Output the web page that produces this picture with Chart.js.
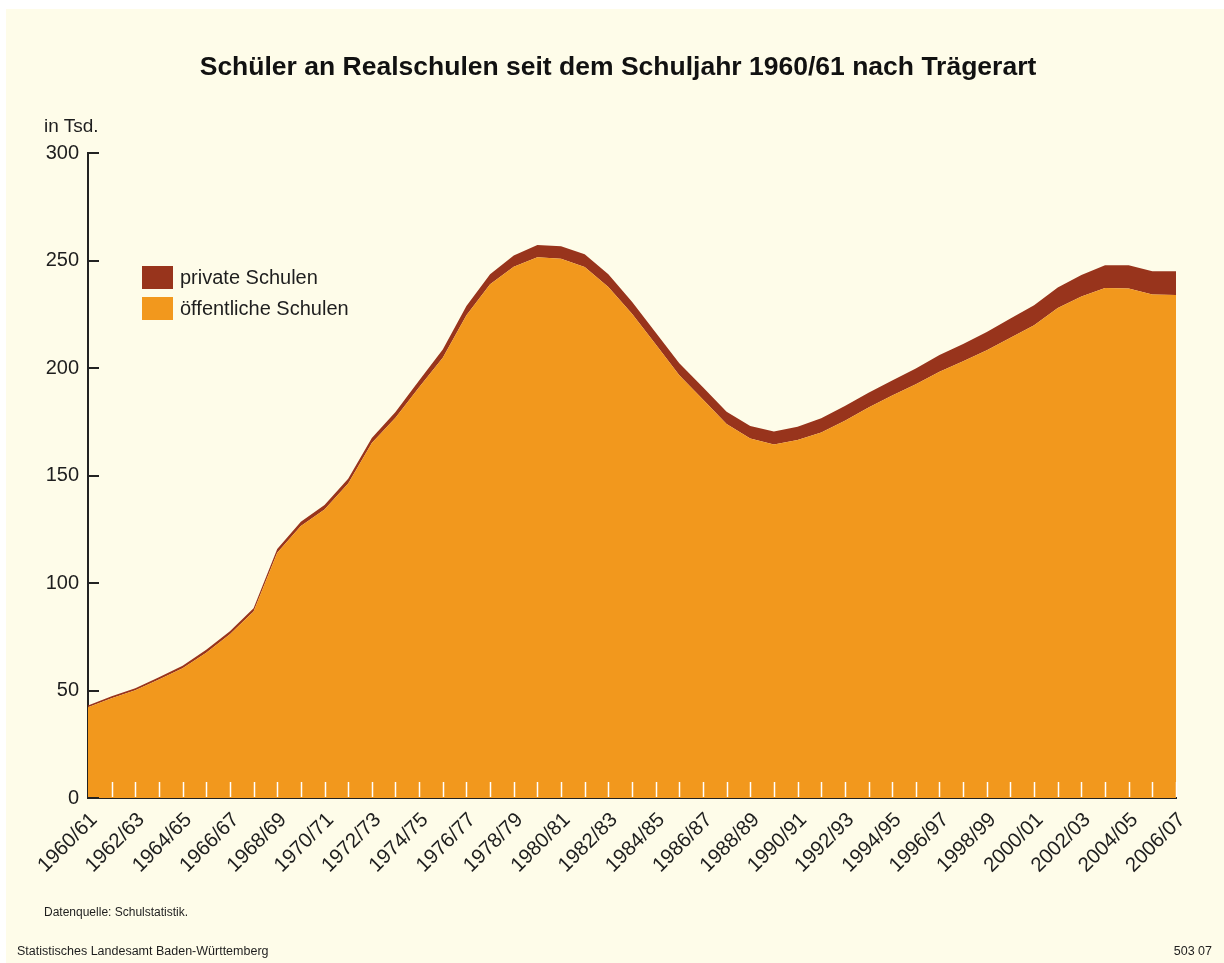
<!DOCTYPE html>
<html>
<head>
<meta charset="utf-8">
<script src="https://cdn.jsdelivr.net/npm/chart.js@4"></script>
<style>
  html, body { margin: 0; padding: 0; background: #ffffff; }
  #wrap { position: relative; width: 1224px; height: 963px; overflow: hidden; }
  #panel { position: absolute; left: 6px; top: 9px; right: 0; bottom: 0; background: #fefce9; }
  #chart { position: absolute; left: 0; top: 0; }
  .txt { position: absolute; font-family: "Liberation Sans", Arial, sans-serif; color: #1e1e1e; white-space: nowrap; }
  #title { left: 0; width: 1236px; top: 51px; text-align: center; font-size: 26.5px; font-weight: bold; color: #111; }
  #unit { left: 44px; top: 115px; font-size: 19px; }
  #legend { left: 142px; top: 265px; }
  .item { position: relative; height: 31px; font-size: 20px; line-height: 24px; }
  .box { position: absolute; left: 0; top: 1px; width: 31px; height: 23px; }
  .item span { position: absolute; left: 38px; top: 0; }
  #source { left: 44px; top: 905px; font-size: 12px; }
  #office { left: 17px; top: 944px; font-size: 12.5px; }
  #code { right: 12px; top: 944px; font-size: 12.5px; }
</style>
</head>
<body>
<div id="wrap">
  <div id="panel"></div>
  <canvas id="chart" width="1224" height="963"></canvas>
  <div class="txt" id="title">Schüler an Realschulen seit dem Schuljahr 1960/61 nach Trägerart</div>
  <div class="txt" id="unit">in Tsd.</div>
  <div class="txt" id="legend"></div>
  <div class="txt" id="source">Datenquelle: Schulstatistik.</div>
  <div class="txt" id="office">Statistisches Landesamt Baden-Württemberg</div>
  <div class="txt" id="code">503 07</div>
</div>
<script>
// Schuljahre 1960/61 bis 2006/07
var years = [];
for (var y = 1960; y <= 2006; y++) {
    years.push(y + '/' + String((y + 1) % 100).padStart(2, '0'));
}

// Schüler in Tausend
var publicSchools = [
    42.2, 46.4, 50.1, 55.1, 60.3, 67.6, 76.2, 86.8, 114.1, 126.5,
    134.2, 146.3, 165.1, 176.9, 191.0, 204.8, 224.5, 238.9, 247.1, 251.5,
    250.8, 247.0, 237.7, 225.2, 211.0, 196.6, 185.3, 174.0, 167.2, 164.4,
    166.5, 170.0, 175.5, 181.6, 187.2, 192.5, 198.2, 203.1, 208.3, 214.1,
    219.9, 227.9, 233.2, 237.2, 237.0, 234.2, 233.9
];
var privateSchools = [
    0.8, 0.9, 1.0, 1.1, 1.2, 1.3, 1.4, 1.5, 1.7, 2.0,
    2.1, 2.2, 2.4, 2.6, 3.2, 3.8, 4.3, 4.7, 5.2, 5.7,
    5.8, 5.9, 5.9, 5.6, 5.5, 5.6, 5.7, 5.6, 5.8, 6.1,
    6.2, 6.6, 6.8, 6.9, 7.0, 7.3, 7.8, 8.1, 8.5, 8.9,
    9.3, 9.5, 10.0, 10.6, 10.8, 10.8, 11.1
];
var yTicks = [0, 50, 100, 150, 200, 250, 300];

var orange = '#f2981d';
var darkRed = '#98341c';
var axisColor = '#222222';
var tickFont = { family: '"Liberation Sans", Arial, sans-serif', size: 20 };

// short marks: dark ones pointing into the plot on the y axis,
// white ones standing on the x axis inside the area
var innerTicks = {
    id: 'innerTicks',
    afterDatasetsDraw: function (chart) {
        var ctx = chart.ctx;
        var xs = chart.scales.x, ys = chart.scales.y;
        var area = chart.chartArea;
        ctx.save();
        ctx.strokeStyle = '#ffffff';
        ctx.lineWidth = 1.5;
        for (var i = 1; i < years.length; i++) {
            var px = Math.round(xs.getPixelForValue(i)) + 0.5;
            ctx.beginPath();
            ctx.moveTo(px, area.bottom - 16);
            ctx.lineTo(px, area.bottom - 1);
            ctx.stroke();
        }
        ctx.strokeStyle = axisColor;
        ctx.lineWidth = 2;
        yTicks.forEach(function (v) {
            var py = Math.round(ys.getPixelForValue(v));
            ctx.beginPath();
            ctx.moveTo(area.left, py);
            ctx.lineTo(area.left + 11, py);
            ctx.stroke();
        });
        ctx.restore();
    }
};

var chart = new Chart(document.getElementById('chart'), {
    type: 'line',
    data: {
        labels: years,
        datasets: [{
            label: 'öffentliche Schulen',
            data: publicSchools,
            backgroundColor: orange,
            borderWidth: 0,
            pointRadius: 0,
            fill: 'origin'
        }, {
            label: 'private Schulen',
            data: privateSchools,
            backgroundColor: darkRed,
            borderWidth: 0,
            pointRadius: 0,
            fill: '-1'
        }]
    },
    options: {
        responsive: false,
        animation: false,
        layout: { padding: { left: 0, top: 153, right: 48, bottom: 85 } },
        plugins: {
            legend: { display: false },
            title: { display: false },
            tooltip: { enabled: false }
        },
        elements: { line: { tension: 0 } },
        scales: {
            x: {
                stacked: true,
                grid: { display: false, drawTicks: false },
                border: { display: true, color: axisColor, width: 2 },
                ticks: {
                    autoSkip: false,
                    minRotation: 45,
                    maxRotation: 45,
                    padding: 10,
                    labelOffset: 6,
                    color: '#1e1e1e',
                    font: { family: tickFont.family, size: 20.5 },
                    callback: function (val, idx) {
                        return idx % 2 === 0 ? years[idx] : '';
                    }
                },
                afterFit: function (scale) { scale.height = 80; }
            },
            y: {
                stacked: true,
                min: 0,
                max: 300,
                grid: { display: false, drawTicks: false },
                border: { display: true, color: axisColor, width: 2 },
                ticks: {
                    stepSize: 50,
                    padding: 9,
                    color: '#1e1e1e',
                    font: tickFont
                },
                afterFit: function (scale) { scale.width = 88; }
            }
        }
    },
    plugins: [innerTicks]
});

// legend in the order of the picture: private first
var legend = document.getElementById('legend');
chart.data.datasets.slice().reverse().forEach(function (ds) {
    var item = document.createElement('div');
    item.className = 'item';
    item.innerHTML = '<div class="box" style="background:' + ds.backgroundColor + '"></div><span>' + ds.label + '</span>';
    legend.appendChild(item);
});
</script>
</body>
</html>
